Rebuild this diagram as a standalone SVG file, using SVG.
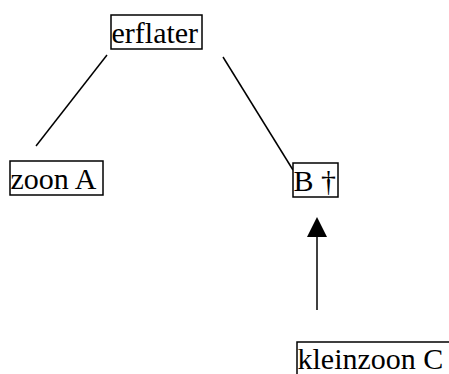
<svg xmlns="http://www.w3.org/2000/svg" width="449" height="374" viewBox="0 0 449 374">
<defs>
<style>
.box{fill:#fff;stroke:#000;stroke-width:1.5}
.lbl{font-family:"Liberation Serif","Times New Roman",serif;font-size:30px;fill:#000}
.edge{stroke:#000;stroke-width:1.5;fill:none}
</style>
</defs>
<g id="connectors">
<line class="edge" x1="107" y1="55" x2="36" y2="146"/>
<line class="edge" x1="223" y1="57" x2="293" y2="170"/>
<line class="edge" x1="317" y1="310" x2="317" y2="236"/>
<path d="M317,217 L307,237 L327,237 z" fill="#000"/>
</g>
<g id="erflater">
<rect class="box" x="111" y="15" width="91" height="34"/>
<text class="lbl" x="111.5" y="43">erflater</text>
</g>
<g id="zoonA">
<rect class="box" x="10" y="161" width="93" height="34"/>
<text class="lbl" x="10.5" y="189">zoon A</text>
</g>
<g id="B">
<rect class="box" x="293" y="163" width="45" height="34"/>
<text class="lbl" x="293.5" y="191">B †</text>
</g>
<g id="kleinzoonC">
<rect class="box" x="297" y="342" width="160" height="40"/>
<text class="lbl" x="297.5" y="369">kleinzoon C</text>
</g>
</svg>
